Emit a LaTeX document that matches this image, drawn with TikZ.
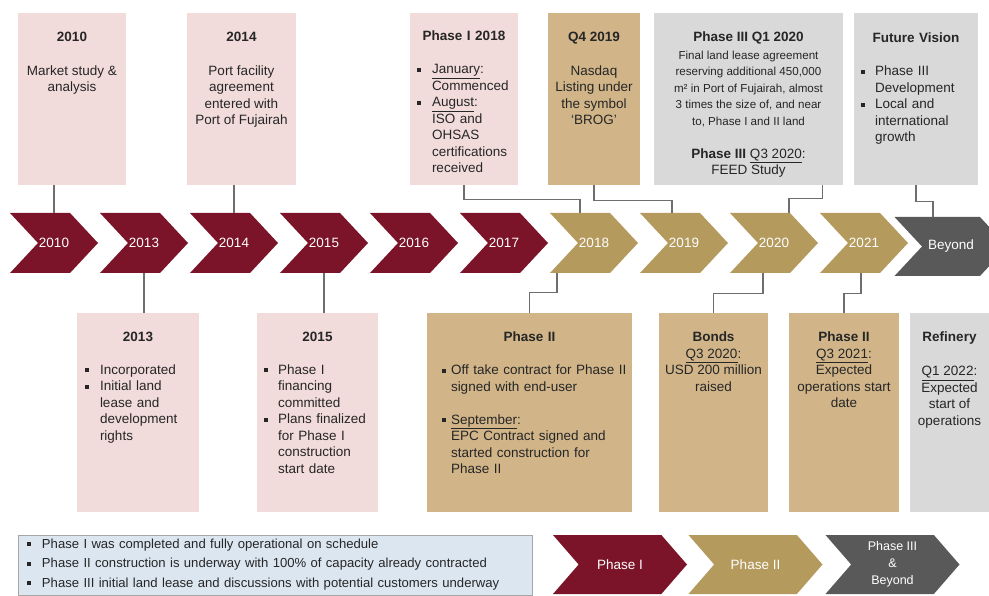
\documentclass[tikz,border=0pt]{standalone}
\usepackage{fontspec}
\setmainfont{Liberation Sans}
\usetikzlibrary{shapes.symbols, positioning}
\definecolor{chevred}{HTML}{7B1428}
\definecolor{chevgold}{HTML}{B59A5E}
\definecolor{chevgray}{HTML}{595959}
\definecolor{boxpink}{HTML}{F2DCDB}
\definecolor{boxgold}{HTML}{D1B589}
\definecolor{boxgray}{HTML}{D9D9D9}
\definecolor{legfill}{HTML}{DCE6F1}
\definecolor{legline}{HTML}{A6A6A6}
\definecolor{linegray}{HTML}{6E6E6E}
\definecolor{textgray}{HTML}{262626}
\newlength{\bulind}
\setlength{\bulind}{15pt}
\newcommand{\hd}[1]{\hbox to\hsize{\hfil\textbf{#1}\hfil}}
\newcommand{\blank}{\par\vskip\baselineskip}
\newcommand{\nl}{\newline}
\newcommand{\sm}{\fontsize{11.6}{16.7}\selectfont}
\newcommand{\bul}[1]{\noindent\hangindent=\bulind\hangafter=1\hbox to\bulind{\raisebox{.3ex}{\rule{3.8pt}{3.8pt}}\hfil}#1\par}
\tikzset{
    chev/.style={signal, signal to=east, signal from=west, signal pointer angle=94,
        minimum width=88, minimum height=60, inner sep=0, text=white,
        font=\fontsize{13.5}{16}\selectfont},
    lchev/.style={chev, minimum width=134, minimum height=59, signal pointer angle=98},
    tbox/.style={minimum height=172, inner sep=0},
    bbox/.style={minimum height=199, inner sep=0},
    txt/.style={inner sep=0, text=textgray, font=\fontsize{13.5}{16.5}\selectfont},
    ctxt/.style={txt, align=center},
    ltxt/.style={txt, align=left},
    conn/.style={draw=linegray, line width=1.3pt}}
\begin{document}
\begin{tikzpicture}[x=1pt, y=-1pt]
\useasboundingbox (0,0) rectangle (989,596);

% timeline arrows
\foreach \yr [count=\i from 0] in {2010,2013,2014,2015,2016,2017}
    \node[chev, fill=chevred] (c\yr) at (54+90*\i,243) {\yr};
\foreach \yr [count=\i from 6] in {2018,2019,2020,2021}
    \node[chev, fill=chevgold] (c\yr) at (54+90*\i,243) {\yr};
\node[chev, fill=chevgray, minimum width=113, minimum height=59] (cbeyond) at (951,246.5) {Beyond};

% upper boxes
\node[tbox, fill=boxpink, minimum width=108] (b10) at (72,99)    {};
\node[tbox, fill=boxpink, minimum width=109] (b14) at (241.5,99) {};
\node[tbox, fill=boxpink, minimum width=108] (b18) at (464,99)   {};
\node[tbox, fill=boxgold, minimum width=92]  (b19) at (594,99)   {};
\node[tbox, fill=boxgray, minimum width=189] (b20) at (748.5,99) {};
\node[tbox, fill=boxgray, minimum width=124] (bfv) at (916,99)   {};

\node[ctxt, below=19pt of b10.north] (t10)
    {\textbf{2010}\\[17.5pt]Market study \&\\analysis};
\node[ctxt, below=19pt of b14.north] (t14)
    {\textbf{2014}\\[17.5pt]Port facility\\agreement\\entered with\\Port of Fujairah};
\node[ltxt, text width=94, below=18pt of b18.north] (t18)
    {\hd{Phase I 2018}\blank
     \bul{\underline{January}:\nl Commenced}
     \bul{\underline{August}:\nl ISO and\nl OHSAS\nl certifications\nl received}};
\node[ctxt, below=19pt of b19.north] (t19)
    {\textbf{Q4 2019}\\[17.5pt]Nasdaq\\Listing under\\the symbol\\`BROG'};
\node[ctxt, below=19pt of b20.north] (t20)
    {\textbf{Phase III Q1 2020}\\[1pt]\sm Final land lease agreement\\\sm reserving additional 450,000\\
     \sm m² in Port of Fujairah, almost\\\sm 3 times the size of, and near\\\sm to, Phase I and II land\\[16.7pt]
     \textbf{Phase III} \underline{Q3 2020}:\\FEED Study};
\node[ltxt, text width=110, below=20pt of bfv.north] (tfv)
    {\setlength{\bulind}{14pt}\hd{Future Vision}\blank
     \bul{Phase III\nl Development}
     \bul{Local and\nl international\nl growth}};

% lower boxes
\node[bbox, fill=boxpink, minimum width=122] (b13) at (138,412.5)   {};
\node[bbox, fill=boxpink, minimum width=121] (b15) at (317.5,412.5) {};
\node[bbox, fill=boxgold, minimum width=205] (bp2) at (529.5,412.5) {};
\node[bbox, fill=boxgold, minimum width=109] (bbo) at (713.5,412.5) {};
\node[bbox, fill=boxgold, minimum width=110] (b21) at (844,412.5)   {};
\node[bbox, fill=boxgray, minimum width=79]  (bre) at (949.5,412.5) {};

\node[ltxt, text width=106, below=19pt of b13.north] (t13)
    {\hd{2013}\blank
     \bul{Incorporated}
     \bul{Initial land\nl lease and\nl development\nl rights}};
\node[ltxt, text width=107, below=19pt of b15.north] (t15)
    {\setlength{\bulind}{14pt}\hd{2015}\blank
     \bul{Phase I\nl financing\nl committed}
     \bul{Plans finalized\nl for Phase I\nl construction\nl start date}};
\node[ltxt, text width=188, xshift=6.5pt, below=19pt of bp2.north] (tp2)
    {\setlength{\bulind}{9pt}\hbox to\hsize{\hfil\textbf{Phase II}\hskip13pt\hfil}\blank
     \bul{Off take contract for Phase II\nl signed with end-user}\vskip\baselineskip
     \bul{\underline{September}:\nl EPC Contract signed and\nl started construction for\nl Phase II}};
\node[ctxt, below=19pt of bbo.north] (tbo)
    {\textbf{Bonds}\\\underline{Q3 2020}:\\USD 200 million\\raised};
\node[ctxt, below=19pt of b21.north] (t21)
    {\textbf{Phase II}\\\underline{Q3 2021}:\\Expected\\operations start\\date};
\node[ctxt, below=19pt of bre.north] (tre)
    {\textbf{Refinery}\\[17.5pt]\underline{Q1 2022}:\\Expected\\start of\\operations};

% connectors
\draw[conn] (b10.south -| c2010.north) -- (c2010.north);
\draw[conn] (b14.south -| c2014.north) -- (c2014.north);
\draw[conn] (b13.north -| c2013.south) -- (c2013.south);
\draw[conn] (b15.north -| c2015.south) -- (c2015.south);
\draw[conn] (b18.south) -- ++(0,14) -| ([xshift=-14pt]c2018.north);
\draw[conn] (b19.south) -- ++(0,15) -| ([xshift=-12pt]c2019.north);
\draw[conn] ([xshift=-21pt]b20.south east) -- ++(0,13) -| ([xshift=15pt]c2020.north);
\draw[conn] (bfv.south) -- ++(0,16) -| ([xshift=-18pt]cbeyond.north);
\draw[conn] ([xshift=-37pt]c2018.south) -- ++(0,19) -| (bp2.north);
\draw[conn] ([xshift=-11pt]c2020.south) -- ++(0,20) -| (bbo.north);
\draw[conn] ([xshift=-3pt]c2021.south) -- ++(0,20) -| (b21.north);

% legend
\node[draw=legline, fill=legfill, line width=0.8pt, minimum width=514, minimum height=60, inner sep=0] (leg) at (275,565) {};
\node[ltxt, text width=496, font=\fontsize{13.1}{19.5}\selectfont, below=4pt of leg.north] (tleg)
    {\bul{Phase I was completed and fully operational on schedule}
     \bul{Phase II construction is underway with 100\% of capacity already contracted}
     \bul{Phase III initial land lease and discussions with potential customers underway}};
\node[lchev, fill=chevred]  (lp1) at (620,564.5)   {Phase I};
\node[lchev, fill=chevgold] (lp2) at (755.5,564.5) {Phase II};
\node[lchev, fill=chevgray, align=center, font=\fontsize{12.5}{17}\selectfont] (lp3) at (892.5,564.5) {Phase III\\\&\\Beyond};
\end{tikzpicture}
\end{document}
